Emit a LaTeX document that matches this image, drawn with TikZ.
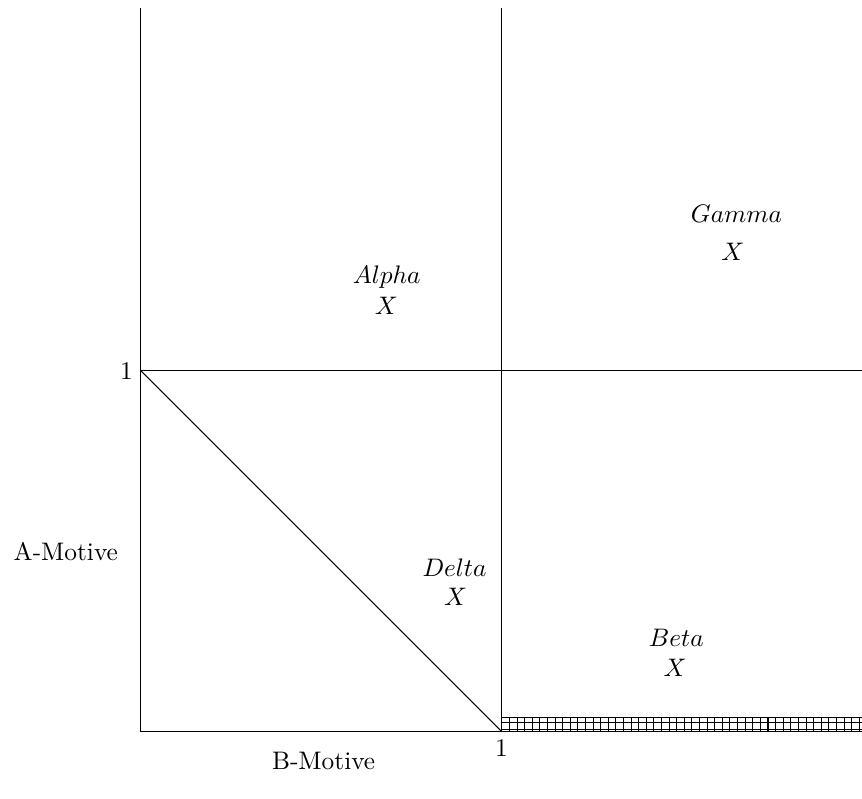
\documentclass[tikz,border=0pt]{standalone}
\usepackage{amsmath,amssymb}
\usetikzlibrary{positioning, patterns}

\begin{document}
\begin{tikzpicture}[
    x=5cm, y=5cm,
    axis/.style={draw, thin},
    region/.style={inner sep=1pt},
    tick/.style={inner sep=3pt}
]
    \useasboundingbox (-0.3906,-0.1856) rectangle (2.0,2.028);

    \coordinate (O)    at (0,0);
    \coordinate (ytop) at (0,2.006);
    \coordinate (a1)   at (0,1);
    \coordinate (b1)   at (1,0);
    \coordinate (mtop) at (1,2.006);
    \coordinate (rmid) at (2,1);
    \coordinate (rbot) at (2,0);
    \coordinate (strip) at (2,0.039);

    % hatched strip
    \fill[pattern=grid] (b1) rectangle (strip);
    \draw (b1) rectangle (strip);

    % frame
    \draw[axis] (ytop) -- (O) -- (rbot);
    \draw[axis] (mtop) -- (b1);
    \draw[axis] (a1) -- (rmid);
    \draw[axis] (a1) -- (b1);

    % ticks and axis labels
    \node[tick, left=0pt of a1]  (aone) {1};
    \node[tick, below=0pt of b1] (bone) {1};
    \node (amot) at (-0.208,0.499) {A-Motive};
    \node (bmot) at (0.507,-0.083) {B-Motive};

    % regions
    \node[region] (alpha)  at (0.682,1.260) {$Alpha$};
    \node[region] (alphaX) at (0.681,1.180) {$X$};
    \node[region] (gamma)  at (1.652,1.435) {$Gamma$};
    \node[region] (gammaX) at (1.642,1.330) {$X$};
    \node[region] (delta)  at (0.870,0.454) {$Delta$};
    \node[region] (deltaX) at (0.873,0.374) {$X$};
    \node[region] (beta)   at (1.485,0.260) {$Beta$};
    \node[region] (betaX)  at (1.482,0.177) {$X$};
\end{tikzpicture}
\end{document}
